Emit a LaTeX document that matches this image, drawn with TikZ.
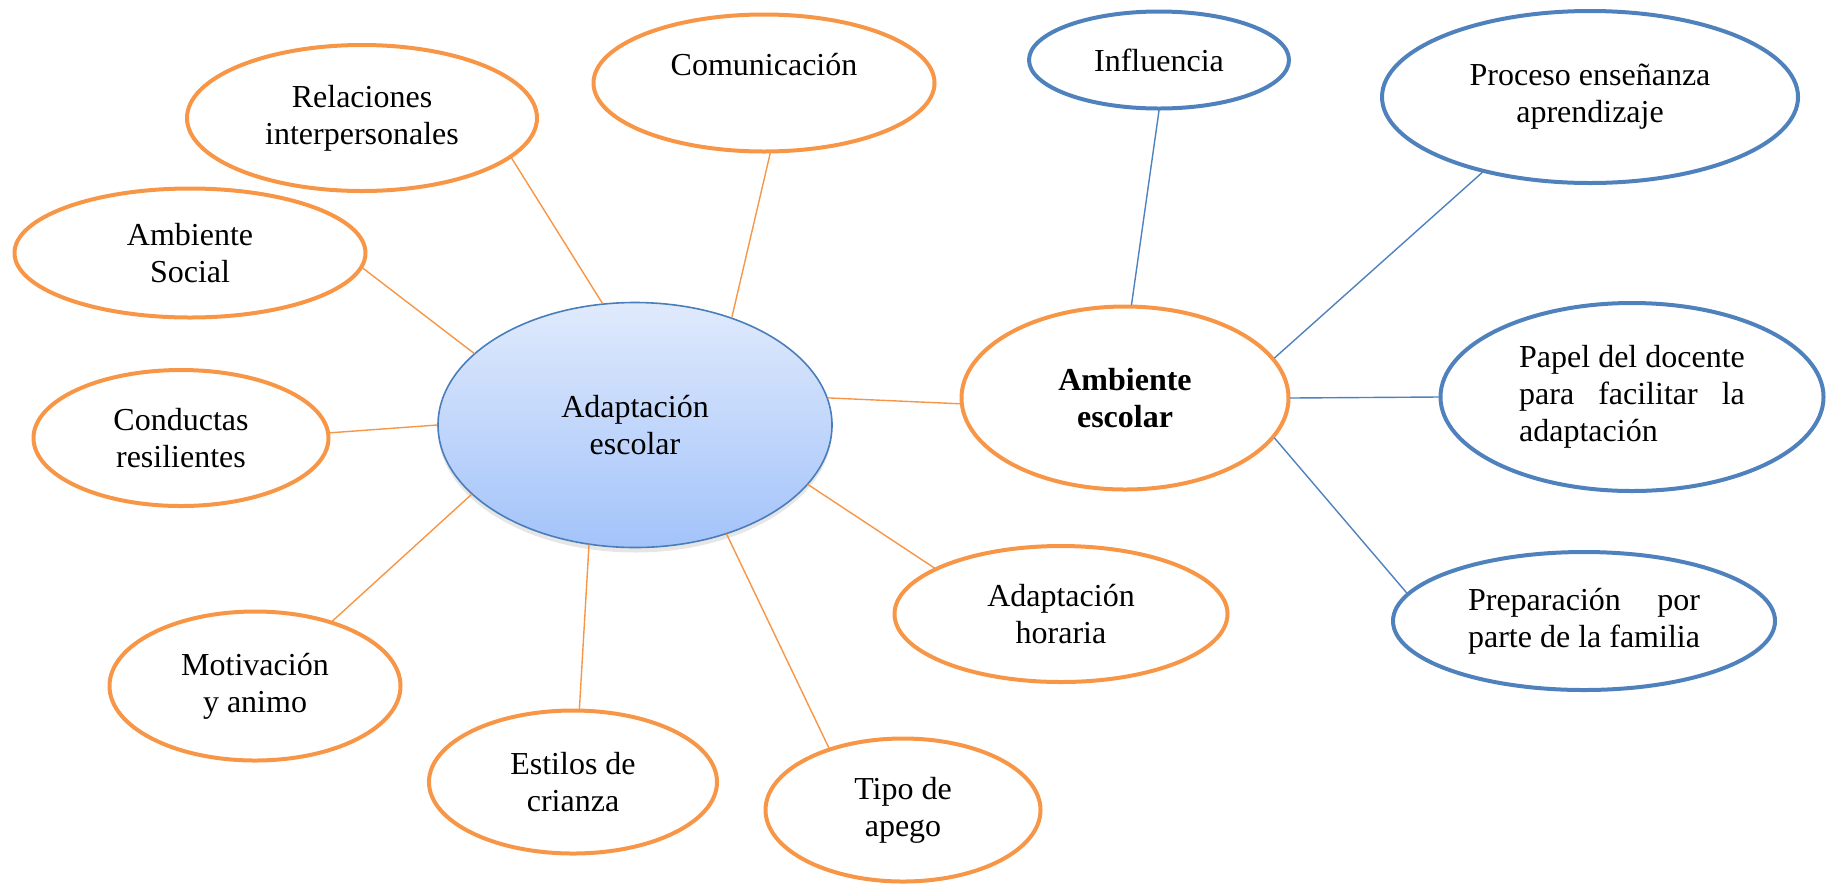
\documentclass[tikz,border=0pt]{standalone}
\usepackage{fontspec}
\setmainfont{Liberation Serif}
\usepackage{calc}
\usetikzlibrary{shapes.geometric,shadows}
\definecolor{naranja}{HTML}{F79646}
\definecolor{azul}{HTML}{4F81BD}
\definecolor{azulborde}{HTML}{4A7EBB}
\definecolor{azulclaro}{HTML}{E0EAFC}
\definecolor{azulfondo}{HTML}{A3C3FA}

\begin{document}
\begin{tikzpicture}[line cap=round,line join=round,x=0.5pt,y=-0.5pt,
		burbuja/.style={ellipse,draw=naranja,line width=2pt,inner sep=0pt,align=center,font=\fontsize{16}{18.5}\selectfont},
		burbujaazul/.style={burbuja,draw=azul},
		rama/.style={draw=naranja,line width=0.7pt},
		ramaazul/.style={draw=azul,line width=0.7pt}]
		\useasboundingbox (0,0) rectangle (1834,885);
		\node[ellipse,draw=azulborde,line width=0.8pt,inner sep=0pt,top color=azulclaro,bottom color=azulfondo,drop shadow={shadow xshift=0pt,shadow yshift=-2.5pt,opacity=0.2},minimum width=197pt,minimum height=122.5pt,align=center,font=\fontsize{16}{18.5}\selectfont] (cen) at (635,425) {Adaptación\\escolar};
		\node[burbuja,minimum width=175pt,minimum height=73pt] (rel) at (362,118) {Relaciones\\interpersonales};
		\node[burbuja,minimum width=170.5pt,minimum height=68.5pt] (com) at (764,83) {Comunicación\\\mbox{}};
		\node[burbuja,minimum width=175.5pt,minimum height=64.5pt] (soc) at (190,253) {Ambiente\\Social};
		\node[burbuja,minimum width=147.5pt,minimum height=68pt] (con) at (181,438) {Conductas\\resilientes};
		\node[burbuja,minimum width=145.5pt,minimum height=74.5pt] (mot) at (255,686) {Motivación\\y animo};
		\node[burbuja,minimum width=144pt,minimum height=71.5pt] (est) at (573,782) {Estilos de\\crianza};
		\node[burbuja,minimum width=137.5pt,minimum height=71.5pt] (tip) at (903,810) {Tipo de\\apego};
		\node[burbuja,minimum width=166.5pt,minimum height=68pt] (hor) at (1061,614) {Adaptación\\horaria};
		\node[burbuja,minimum width=163.5pt,minimum height=91.5pt,font=\fontsize{16}{18.5}\selectfont\bfseries] (esc) at (1125,398) {Ambiente\\escolar};
		\node[burbujaazul,minimum width=130pt,minimum height=48.5pt] (inf) at (1159,60) {Influencia};
		\node[burbujaazul,minimum width=208pt,minimum height=86pt] (pro) at (1590,97) {Proceso enseñanza\\aprendizaje};
		\node[burbujaazul,minimum width=191.5pt,minimum height=94pt,align=left] (pap) at (1632,397) {Papel del docente\\\makebox[\widthof{Papel del docente}][s]{para facilitar la}\\adaptación};
		\node[burbujaazul,minimum width=191pt,minimum height=69pt,align=left] (pre) at (1584,621) {\makebox[\widthof{parte de la familia}][s]{Preparación por}\\parte de la familia};
		\draw[rama] (rel.-15) -- (cen.105);
		\draw[rama] (com.-85) -- (cen.48);
		\draw[rama] (soc.-5) -- (cen.156);
		\draw[rama] (con.2) -- (cen.180);
		\draw[rama] (mot.40) -- (cen.-157);
		\draw[rama] (est.85) -- (cen.-111);
		\draw[rama] (tip.140) -- (cen.-50);
		\draw[rama] (hor.160) -- (cen.-19);
		\draw[rama] (cen.8) -- (esc.182);
		\draw[ramaazul] (inf.-90) -- (esc.86);
		\draw[ramaazul] (pro.-145) -- (esc.15);
		\draw[ramaazul] (esc.0) -- (pap.180);
		\draw[ramaazul] (pre.171) -- (esc.-15);
	\end{tikzpicture}
\end{document}
